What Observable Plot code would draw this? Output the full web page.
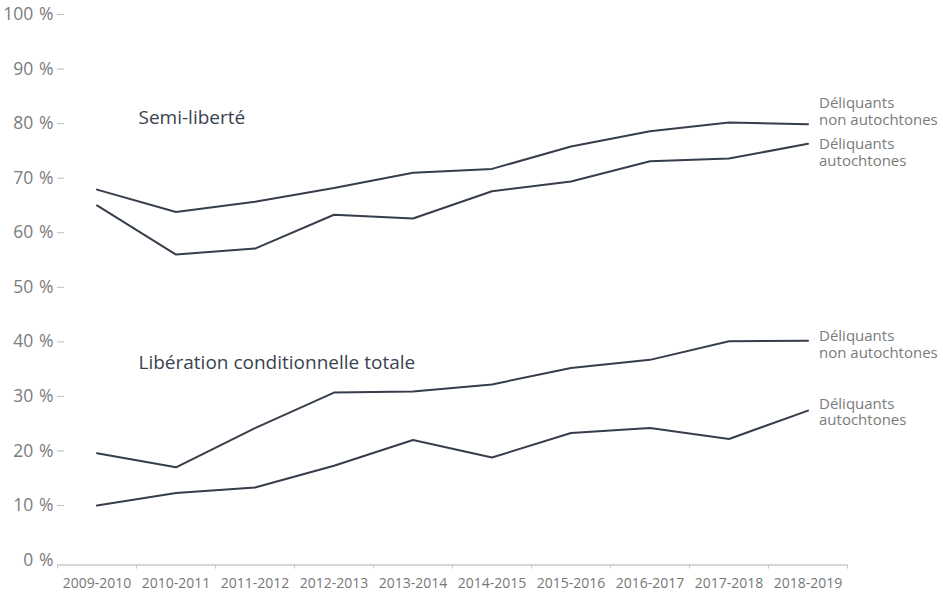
<!DOCTYPE html>
<html>
<head>
<meta charset="utf-8">
<script src="https://cdn.jsdelivr.net/npm/d3@7"></script>
<script src="https://cdn.jsdelivr.net/npm/@observablehq/plot@0.6"></script>
<style>
  html, body { margin: 0; padding: 0; background: #fff; }
  #chart svg { display: block; }
</style>
</head>
<body>
<div id="chart"></div>
<script>
const years = ["2009-2010","2010-2011","2011-2012","2012-2013","2013-2014","2014-2015","2015-2016","2016-2017","2017-2018","2018-2019"];
const yTicks = [0,10,20,30,40,50,60,70,80,90,100];

const semiNonAutochtones = [67.9, 63.8, 65.7, 68.2, 71.0, 71.7, 75.8, 78.6, 80.2, 79.9];
const semiAutochtones    = [65.0, 56.0, 57.1, 63.3, 62.6, 67.6, 69.4, 73.1, 73.6, 76.3];
const libNonAutochtones  = [19.6, 17.0, 24.2, 30.7, 30.9, 32.2, 35.2, 36.7, 40.1, 40.2];
const libAutochtones     = [10.0, 12.3, 13.3, 17.3, 22.0, 18.8, 23.3, 24.2, 22.2, 27.4];

const seriesNames = {
  semiNon: "Semi-liberté — non autochtones",
  semiAut: "Semi-liberté — autochtones",
  libNon: "Libération — non autochtones",
  libAut: "Libération — autochtones"
};
const labelNon = "Déliquants\nnon autochtones";
const labelAut = "Déliquants\nautochtones";
const titleSemi = "Semi-liberté";
const titleLib = "Libération conditionnelle totale";

const rows = [];
[[seriesNames.semiNon, semiNonAutochtones],
 [seriesNames.semiAut, semiAutochtones],
 [seriesNames.libNon, libNonAutochtones],
 [seriesNames.libAut, libAutochtones]].forEach(([name, vals]) => {
  vals.forEach((v, i) => rows.push({series: name, i, v}));
});

const last = years.length - 1;
const lineColor = "#363e4c";
const labelColor = "#7b7b7b";
const font = "'Open Sans', 'DejaVu Sans', sans-serif";

function endLabel(vals, text, dy) {
  return Plot.text([{i: last, v: vals[last]}], {
    x: "i", y: "v", text: () => text,
    dx: 11, dy, textAnchor: "start", lineAnchor: "middle",
    fontSize: 15, fill: labelColor, lineHeight: 1.12
  });
}

const chart = Plot.plot({
  width: 943,
  height: 597,
  marginLeft: 57,
  marginRight: 96,
  marginTop: 14,
  marginBottom: 37.4,
  style: {fontFamily: font, background: "#fff", overflow: "visible"},
  x: {domain: [-0.5, last + 0.5], axis: null},
  y: {domain: [0, 100], axis: null},
  marks: [
    // y tick dashes (none at 0, where the baseline is)
    Plot.axisY({ticks: yTicks.filter(d => d > 0), tickSize: 7, dx: 7, tickFormat: () => "", color: "#bdbdbd", label: null}),
    // y labels
    Plot.axisY({ticks: yTicks, tickSize: 0, tickPadding: 4, tickFormat: d => d + "\u2004%", color: "#7c7c7c", fontSize: 17.5, label: null}),
    // x baseline
    Plot.ruleY([0], {dy: 5, stroke: "#c8c8c8", strokeWidth: 1.5}),
    // x boundary ticks
    Plot.axisX({ticks: d3.range(-0.5, last + 1, 1), tickSize: 4, dy: 5, tickFormat: () => "", color: "#c8c8c8", label: null}),
    // x labels
    Plot.axisX({ticks: d3.range(0, years.length), tickSize: 0, tickPadding: 18, tickFormat: i => years[i], color: "#777777", fontSize: 14, label: null}),
    // lines
    Plot.line(rows, {x: "i", y: "v", z: "series", stroke: lineColor, strokeWidth: 2}),
    // titles
    Plot.text([titleSemi], {frameAnchor: "top-left", dx: 81, dy: 103, textAnchor: "start", lineAnchor: "middle", fontSize: 19, fill: "#3a4250"}),
    Plot.text([titleLib], {frameAnchor: "top-left", dx: 81, dy: 348, textAnchor: "start", lineAnchor: "middle", fontSize: 19, fill: "#3a4250"}),
    // end labels
    endLabel(semiNonAutochtones, labelNon, -13),
    endLabel(semiAutochtones, labelAut, 8),
    endLabel(libNonAutochtones, labelNon, 3),
    endLabel(libAutochtones, labelAut, 1)
  ]
});

document.getElementById("chart").appendChild(chart);
</script>
</body>
</html>
